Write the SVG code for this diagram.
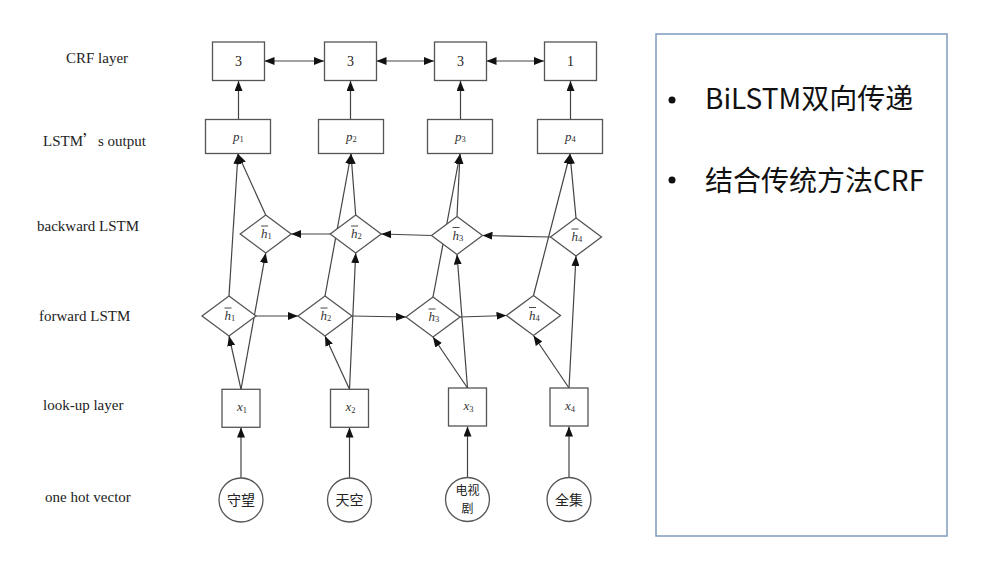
<svg xmlns="http://www.w3.org/2000/svg" width="996" height="568" viewBox="0 0 996 568">
<defs>
<marker id="ah" viewBox="0 0 10 8" refX="10" refY="4" markerWidth="10" markerHeight="8" markerUnits="userSpaceOnUse" orient="auto-start-reverse">
<path d="M0,0 L10,4 L0,8 z" fill="#111"/>
</marker>
<style>
.lbl{font-family:"Liberation Serif","Times New Roman",serif;font-size:15px;fill:#222}
.box{fill:#fff;stroke:#555;stroke-width:1.3}
.num{font-family:"Liberation Serif",serif;font-size:14px;fill:#222;text-anchor:middle}
.var{font-family:"Liberation Serif",serif;font-style:italic;font-size:13px;fill:#333}
.sub{font-size:8.5px;font-style:normal}
.bar{stroke:#333;stroke-width:0.9}
.cjk{font-family:"Noto Sans CJK SC","Noto Sans",sans-serif;font-size:14px;fill:#222;text-anchor:middle}
.cjk2{font-family:"Noto Sans CJK SC","Noto Sans",sans-serif;font-size:12px;fill:#222;text-anchor:middle}
.con line{stroke:#444;stroke-width:1.2;fill:none}
.arr{marker-end:url(#ah)}
.bi{marker-start:url(#ah);marker-end:url(#ah)}
.big{font-family:"Noto Sans CJK SC","Noto Sans",sans-serif;font-size:28px;fill:#111}
</style>
</defs>
<rect width="996" height="568" fill="#fff"/>

<!-- left labels -->
<g id="labels">
<text class="lbl" x="66" y="63">CRF layer</text>
<text class="lbl" x="43" y="146">LSTM<tspan font-family="Noto Sans CJK SC">’</tspan>s output</text>
<text class="lbl" x="37" y="231">backward LSTM</text>
<text class="lbl" x="39" y="321">forward LSTM</text>
<text class="lbl" x="43" y="410">look-up layer</text>
<text class="lbl" x="45" y="502">one hot vector</text>
</g>

<!-- connectors -->
<g id="connectors" class="con">
<line class="bi" x1="264.5" y1="61" x2="324" y2="61"/>
<line class="bi" x1="376.5" y1="61" x2="434" y2="61"/>
<line class="bi" x1="486.5" y1="61" x2="544" y2="61"/>
<line class="arr" x1="238.5" y1="119.5" x2="238.5" y2="81"/>
<line class="arr" x1="350.5" y1="119.5" x2="350.5" y2="81"/>
<line class="arr" x1="460.5" y1="119.5" x2="460.5" y2="81"/>
<line class="arr" x1="570.5" y1="119.5" x2="570.5" y2="81"/>
<line class="arr" x1="229" y1="296" x2="238" y2="154"/>
<line class="arr" x1="325" y1="296" x2="351" y2="154"/>
<line class="arr" x1="433" y1="297" x2="460" y2="154"/>
<line class="arr" x1="533.5" y1="295.5" x2="570" y2="154"/>
<line class="arr" x1="265.7" y1="215" x2="238" y2="154"/>
<line class="arr" x1="355.7" y1="215" x2="351" y2="154"/>
<line class="arr" x1="457" y1="216.5" x2="460" y2="154"/>
<line class="arr" x1="576" y1="218" x2="570" y2="154"/>
<line class="arr" x1="256" y1="316" x2="298" y2="316"/>
<line class="arr" x1="352" y1="316" x2="406" y2="317"/>
<line class="arr" x1="460" y1="317" x2="506.5" y2="315.5"/>
<line class="arr" x1="550.5" y1="237" x2="482.5" y2="235.5"/>
<line class="arr" x1="431.5" y1="235.5" x2="381.2" y2="234"/>
<line class="arr" x1="330.2" y1="234" x2="291.2" y2="234"/>
<line class="arr" x1="241" y1="389.3" x2="229" y2="336"/>
<line class="arr" x1="349.5" y1="389.3" x2="325" y2="336"/>
<line class="arr" x1="467.5" y1="388" x2="433" y2="337"/>
<line class="arr" x1="569" y1="388" x2="533.5" y2="335.5"/>
<line class="arr" x1="241" y1="389.3" x2="265.7" y2="253"/>
<line class="arr" x1="349.5" y1="389.3" x2="355.7" y2="253"/>
<line class="arr" x1="467.5" y1="388" x2="457" y2="254.5"/>
<line class="arr" x1="569" y1="388" x2="576" y2="256"/>
<line class="arr" x1="241" y1="478" x2="241" y2="427.5"/>
<line class="arr" x1="349.5" y1="478" x2="349.5" y2="427.5"/>
<line class="arr" x1="467.5" y1="477.5" x2="467.5" y2="426.5"/>
<line class="arr" x1="569" y1="477.5" x2="569" y2="426.5"/>
</g>

<g id="crf1"><rect class="box" x="212.5" y="42" width="52" height="38.5"/><text class="num" x="238.5" y="66">3</text></g>
<g id="crf2"><rect class="box" x="324.5" y="42" width="52" height="38.5"/><text class="num" x="350.5" y="66">3</text></g>
<g id="crf3"><rect class="box" x="434.5" y="42" width="52" height="38.5"/><text class="num" x="460.5" y="66">3</text></g>
<g id="crf4"><rect class="box" x="544.5" y="42" width="52" height="38.5"/><text class="num" x="570.5" y="66">1</text></g>

<g id="p1"><rect class="box" x="205.5" y="119.5" width="65" height="34"/><text class="var" x="233" y="141">p<tspan class="sub" dy="1">1</tspan></text></g>
<g id="p2"><rect class="box" x="318.5" y="119.5" width="65" height="34"/><text class="var" x="346" y="141">p<tspan class="sub" dy="1">2</tspan></text></g>
<g id="p3"><rect class="box" x="427.5" y="119.5" width="65" height="34"/><text class="var" x="455" y="141">p<tspan class="sub" dy="1">3</tspan></text></g>
<g id="p4"><rect class="box" x="537.5" y="119.5" width="65" height="34"/><text class="var" x="565" y="141">p<tspan class="sub" dy="1">4</tspan></text></g>

<g id="bh1"><polygon class="box" points="265.7,215 291.2,234 265.7,253 240.2,234"/><line class="bar" x1="261" y1="226" x2="268" y2="226"/><text class="var" x="261" y="238">h<tspan class="sub" dy="1">1</tspan></text></g>
<g id="bh2"><polygon class="box" points="355.7,215 381.2,234 355.7,253 330.2,234"/><line class="bar" x1="351" y1="226" x2="358" y2="226"/><text class="var" x="351" y="238">h<tspan class="sub" dy="1">2</tspan></text></g>
<g id="bh3"><polygon class="box" points="457,216.5 482.5,235.5 457,254.5 431.5,235.5"/><line class="bar" x1="452.5" y1="227.5" x2="459.5" y2="227.5"/><text class="var" x="452.5" y="239.5">h<tspan class="sub" dy="1">3</tspan></text></g>
<g id="bh4"><polygon class="box" points="576,218 601.5,237 576,256 550.5,237"/><line class="bar" x1="571.5" y1="229" x2="578.5" y2="229"/><text class="var" x="571.5" y="241">h<tspan class="sub" dy="1">4</tspan></text></g>

<g id="fh1"><polygon class="box" points="229,296 256,316 229,336 202,316"/><line class="bar" x1="224.5" y1="308" x2="231.5" y2="308"/><text class="var" x="224.5" y="320">h<tspan class="sub" dy="1">1</tspan></text></g>
<g id="fh2"><polygon class="box" points="325,296 352,316 325,336 298,316"/><line class="bar" x1="320.5" y1="308" x2="327.5" y2="308"/><text class="var" x="320.5" y="320">h<tspan class="sub" dy="1">2</tspan></text></g>
<g id="fh3"><polygon class="box" points="433,297 460,317 433,337 406,317"/><line class="bar" x1="428.5" y1="309" x2="435.5" y2="309"/><text class="var" x="428.5" y="321">h<tspan class="sub" dy="1">3</tspan></text></g>
<g id="fh4"><polygon class="box" points="533.5,295.5 560.5,315.5 533.5,335.5 506.5,315.5"/><line class="bar" x1="529" y1="307.5" x2="536" y2="307.5"/><text class="var" x="529" y="319.5">h<tspan class="sub" dy="1">4</tspan></text></g>

<g id="x1"><rect class="box" x="222" y="389.3" width="38" height="38"/><text class="var" x="237" y="411">x<tspan class="sub" dy="2">1</tspan></text></g>
<g id="x2"><rect class="box" x="330.5" y="389.3" width="38" height="38"/><text class="var" x="345.5" y="411">x<tspan class="sub" dy="2">2</tspan></text></g>
<g id="x3"><rect class="box" x="448.5" y="388" width="38" height="38"/><text class="var" x="463.5" y="410">x<tspan class="sub" dy="2">3</tspan></text></g>
<g id="x4"><rect class="box" x="550" y="388" width="38" height="38"/><text class="var" x="565" y="410">x<tspan class="sub" dy="2">4</tspan></text></g>

<g id="w1"><circle class="box" cx="241" cy="500" r="22"/><text class="cjk" x="241" y="505">守望</text></g>
<g id="w2"><circle class="box" cx="349.5" cy="500" r="22"/><text class="cjk" x="349.5" y="505">天空</text></g>
<g id="w3"><circle class="box" cx="467.5" cy="499.5" r="22"/><text class="cjk2" x="467.5" y="495">电视</text><text class="cjk2" x="467.5" y="513">剧</text></g>
<g id="w4"><circle class="box" cx="569" cy="499.5" r="22"/><text class="cjk" x="569" y="504.5">全集</text></g>

<g id="panel">
<rect x="656" y="34" width="291" height="502" fill="#fff" stroke="#7f9bbd" stroke-width="1.5"/>
<circle cx="672" cy="100" r="3.5" fill="#111"/>
<text class="big" x="705" y="109">BiLSTM双向传递</text>
<circle cx="672" cy="180" r="3.5" fill="#111"/>
<text class="big" x="705" y="191">结合传统方法CRF</text>
</g>
</svg>
